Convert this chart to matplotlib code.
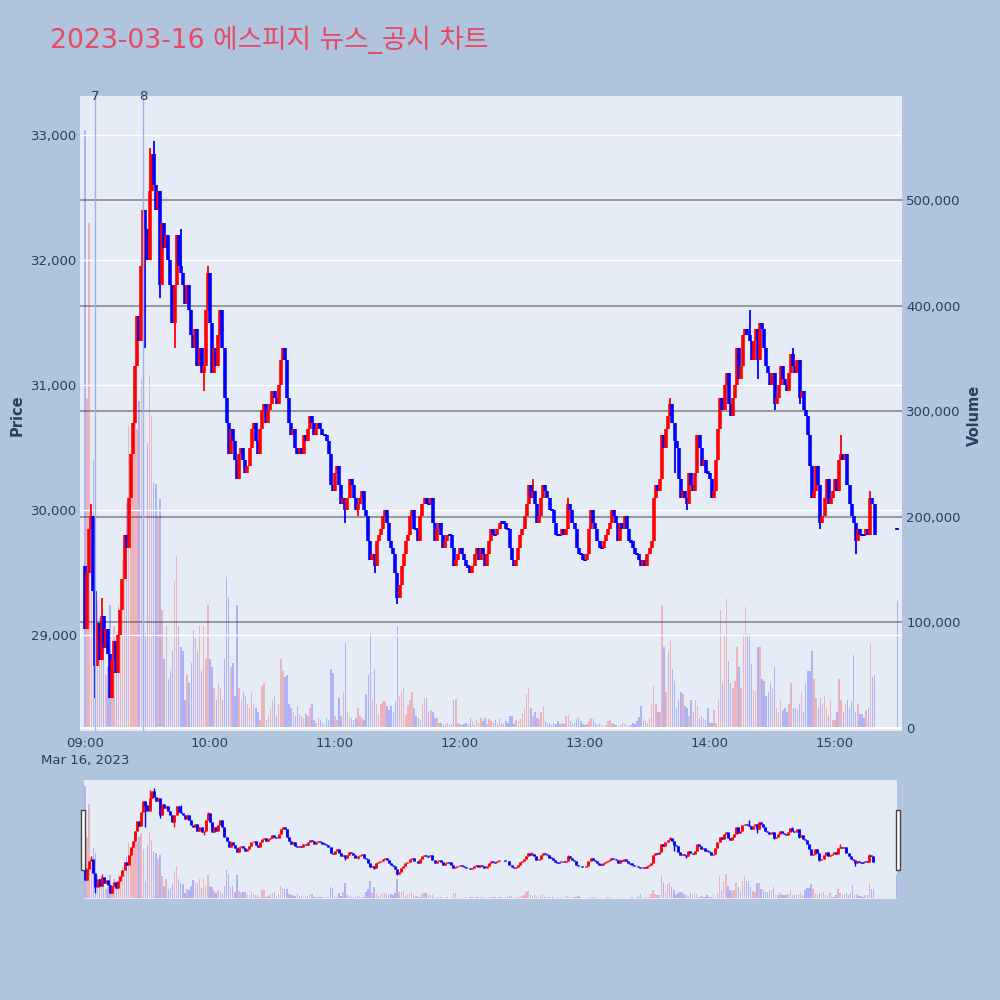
import matplotlib.pyplot as plt
import numpy as np
from matplotlib.patches import Rectangle
from matplotlib.ticker import FuncFormatter

plt.rcParams['font.family'] = ['DejaVu Sans', 'Noto Sans CJK KR']

title = '2023-03-16 에스피지 뉴스_공시 차트'

# 1분봉 종가 (09:00 ~ 15:19), 시가는 직전 종가
first_open = 29550
close = [
    29050, 29500, 29850, 29950, 29350, 28750, 29100, 28800, 29150, 28900, 29050, 28850, 28500, 28800, 28950, 28700, 29000, 29200, 29450, 29800,
    29700, 30100, 30450, 30700, 31150, 31550, 31350, 31950, 32400, 32250, 32000, 32550, 32850, 32600, 32400, 32550, 31800, 32300, 32100, 32200,
    32000, 31800, 31500, 31800, 32200, 31950, 31900, 31800, 31650, 31800, 31600, 31400, 31300, 31450, 31150, 31300, 31100, 31150, 31600, 31900,
    31500, 31100, 31300, 31150, 31400, 31600, 31300, 30900, 30700, 30450, 30650, 30550, 30400, 30250, 30450, 30500, 30400, 30300, 30350, 30500,
    30650, 30700, 30550, 30450, 30650, 30800, 30850, 30700, 30800, 30850, 30950, 30900, 30850, 31000, 31200, 31300, 31200, 30900, 30700, 30600,
    30650, 30500, 30450, 30500, 30450, 30600, 30550, 30650, 30750, 30700, 30600, 30650, 30700, 30650, 30600, 30600, 30550, 30450, 30200, 30150,
    30300, 30350, 30200, 30050, 30100, 30000, 30100, 30250, 30200, 30100, 30000, 30050, 30100, 30150, 30000, 29950, 29750, 29600, 29650, 29550,
    29750, 29800, 29850, 29950, 30000, 29900, 29750, 29700, 29650, 29500, 29300, 29400, 29550, 29650, 29750, 29800, 29950, 30000, 29850, 29850,
    29750, 29950, 30050, 30100, 30050, 30050, 30100, 29900, 29750, 29850, 29900, 29800, 29700, 29750, 29800, 29800, 29700, 29550, 29600, 29650,
    29700, 29650, 29600, 29550, 29550, 29500, 29550, 29650, 29700, 29600, 29700, 29650, 29550, 29650, 29750, 29850, 29800, 29800, 29850, 29900,
    29900, 29900, 29850, 29850, 29700, 29600, 29550, 29600, 29700, 29800, 29850, 29950, 30050, 30200, 30100, 30150, 30050, 29900, 29950, 30100,
    30200, 30150, 30100, 30000, 30000, 29900, 29800, 29800, 29800, 29850, 29800, 29850, 30050, 30000, 29900, 29850, 29700, 29650, 29650, 29600,
    29600, 29650, 29850, 30000, 29900, 29850, 29750, 29700, 29700, 29750, 29800, 29850, 29900, 30000, 29950, 29900, 29750, 29900, 29850, 29950,
    29850, 29750, 29750, 29700, 29650, 29650, 29600, 29550, 29600, 29550, 29650, 29700, 29750, 30100, 30200, 30150, 30250, 30600, 30500, 30650,
    30750, 30850, 30700, 30550, 30500, 30250, 30100, 30150, 30100, 30050, 30300, 30200, 30150, 30300, 30600, 30500, 30350, 30400, 30300, 30300,
    30250, 30100, 30150, 30400, 30650, 30900, 30800, 31000, 31100, 30850, 30750, 30900, 31000, 31300, 31050, 31150, 31400, 31450, 31400, 31350,
    31200, 31350, 31450, 31200, 31500, 31450, 31300, 31150, 31100, 31000, 31100, 30850, 30900, 31000, 31150, 31050, 31000, 30950, 31100, 31250,
    31150, 31100, 31200, 30900, 30950, 30800, 30750, 30600, 30350, 30100, 30150, 30350, 30200, 29900, 29950, 30100, 30250, 30050, 30100, 30150,
    30250, 30150, 30400, 30450, 30400, 30450, 30200, 30050, 29950, 29900, 29750, 29850, 29800, 29800, 29800, 29850, 29800, 30100, 30050, 29800,
]

# 거래량 (천 주)
volume_k = [
    566, 312, 478, 175, 254, 229, 120, 104, 85, 73, 50, 58, 116, 65, 96, 81, 116, 96, 159, 178,
    213, 287, 240, 272, 330, 283, 310, 330, 250, 90, 270, 334, 295, 233, 231, 200, 217, 112, 65, 96,
    46, 54, 73, 139, 163, 96, 77, 73, 26, 50, 42, 61, 93, 85, 73, 96, 54, 96, 65, 116,
    65, 58, 38, 26, 42, 38, 26, 65, 143, 124, 58, 61, 30, 116, 38, 26, 34, 30, 23, 19,
    34, 23, 19, 15, 7, 40, 42, 7, 11, 19, 26, 30, 11, 23, 65, 54, 48, 50, 23, 19,
    15, 11, 21, 13, 11, 9, 13, 11, 19, 23, 7, 5, 9, 7, 5, 3, 9, 7, 56, 52,
    11, 7, 28, 11, 34, 80, 15, 11, 9, 7, 9, 19, 11, 9, 7, 32, 50, 90, 26, 56,
    23, 13, 23, 25, 25, 21, 17, 21, 15, 25, 96, 30, 34, 38, 12, 22, 26, 34, 19, 11,
    9, 7, 23, 28, 28, 15, 17, 15, 9, 9, 5, 5, 3, 4, 5, 3, 4, 26, 27, 5,
    4, 3, 4, 5, 4, 9, 6, 4, 7, 5, 9, 6, 9, 4, 8, 6, 5, 7, 4, 9,
    5, 4, 6, 5, 11, 11, 4, 7, 6, 8, 14, 19, 32, 38, 19, 11, 15, 9, 8, 15,
    21, 6, 4, 5, 3, 5, 4, 6, 4, 5, 4, 11, 12, 6, 4, 5, 8, 10, 6, 4,
    3, 4, 6, 9, 8, 5, 3, 4, 3, 2, 3, 6, 7, 5, 4, 3, 2, 3, 5, 4,
    3, 2, 3, 5, 4, 6, 10, 21, 8, 6, 5, 9, 23, 40, 23, 15, 15, 116, 77, 34,
    73, 83, 56, 44, 19, 26, 34, 32, 21, 19, 11, 26, 15, 26, 21, 9, 11, 9, 7, 19,
    5, 5, 17, 5, 26, 112, 42, 87, 122, 63, 42, 38, 44, 77, 58, 38, 89, 114, 89, 89,
    60, 36, 34, 77, 77, 46, 44, 30, 34, 42, 38, 58, 19, 15, 26, 17, 19, 15, 23, 42,
    19, 19, 17, 23, 34, 15, 42, 54, 54, 73, 46, 28, 19, 28, 23, 30, 19, 11, 26, 7,
    7, 15, 46, 26, 15, 23, 26, 19, 25, 69, 15, 23, 13, 13, 9, 17, 19, 79, 48, 50,
]

# 눈에 띄는 꼬리 (분 -> 가격)
wick_hi = {3: 30050, 8: 29300, 31: 32900, 33: 32950, 46: 32250, 59: 31950, 215: 30250,
           232: 30100, 281: 30900, 319: 31600, 340: 31300, 363: 30600, 377: 30150}
wick_lo = {5: 28500, 29: 31300, 36: 31700, 43: 31300, 57: 30950, 125: 29900, 131: 29950,
           139: 29500, 150: 29250, 283: 30300, 289: 30000, 323: 31050, 331: 30800,
           343: 30850, 353: 29850, 370: 29650}

# 15:30 종가 단일가
auction_minute = 390
auction_price = 29850
auction_vol_k = 120

news_minutes = [5, 28]
news_labels = ['7', '8']

hour_ticks = [0, 60, 120, 180, 240, 300, 360]
hour_labels = ['09:00\nMar 16, 2023', '10:00', '11:00', '12:00', '13:00', '14:00', '15:00']

UP = '#FF0000'
DOWN = '#0000FF'
TXT = '#2a3f5f'

x = np.append(np.arange(len(close)), auction_minute)
c = np.append(close, auction_price).astype(float)
o = np.append([first_open], c[:-1]).astype(float)
o[-1] = auction_price
vol = np.append(volume_k, auction_vol_k) * 1000.0
up = c > o
cols = [UP if u else DOWN for u in up]

body_lo = np.minimum(o, c)
body_hi = np.maximum(o, c)
flat = body_hi - body_lo < 20
body_lo[flat] -= 10
body_hi[flat] += 10
hi = body_hi.copy()
lo = body_lo.copy()
for k, v in wick_hi.items():
    hi[k] = v
for k, v in wick_lo.items():
    lo[k] = v

vcols = [(1, 0, 0, 0.24) if u else (0, 0, 1, 0.24) for u in up]

price_lim = (28232, 33312)
vol_lim = (-3000, 598500)


def draw(axv, axp, body_lw, wick_lw, bar_w):
    axv.bar(x, vol, width=bar_w, color=vcols, linewidth=0)
    axp.vlines(x, lo, hi, colors=cols, linewidth=wick_lw, capstyle='butt')
    axp.vlines(x, body_lo, body_hi, colors=cols, linewidth=body_lw, capstyle='butt')


fig = plt.figure(figsize=(10, 10), dpi=100)
fig.patch.set_facecolor('#B0C4DE')

# 메인 차트
axv = fig.add_axes([0.080, 0.269, 0.822, 0.635])
axv.set_facecolor('#E5ECF6')
axp = axv.twinx()
axp.patch.set_visible(False)

draw(axv, axp, 2.6, 1.3, 0.7)

axv.set_xlim(-2.4, 392.2)
axv.set_ylim(*vol_lim)
axp.set_ylim(*price_lim)

axv.set_yticks([0, 100000, 200000, 300000, 400000, 500000])
axv.yaxis.set_major_formatter(FuncFormatter(lambda v, p: f'{int(v):,}'))
axv.yaxis.tick_right()
axv.yaxis.set_label_position('right')
axv.grid(axis='y', color='#8a8a8a', linewidth=1.2)
axv.axhline(0, color='white', linewidth=1.5, zorder=1.5)
axv.set_axisbelow(True)

axp.set_yticks([29000, 30000, 31000, 32000, 33000])
axp.yaxis.set_major_formatter(FuncFormatter(lambda v, p: f'{int(v):,}'))
axp.yaxis.tick_left()
axp.grid(axis='y', color='white', linewidth=1.0)
axp.set_axisbelow(True)

axv.set_xticks(hour_ticks)
axv.set_xticklabels(hour_labels, linespacing=1.4)
for t in axv.get_xticklabels():
    t.set_verticalalignment('top')

for a in (axv, axp):
    for s in a.spines.values():
        s.set_visible(False)
    a.tick_params(length=0, labelsize=9.5, labelcolor=TXT)
axv.tick_params(axis='y', pad=3)
axp.tick_params(axis='y', pad=2)
axv.tick_params(axis='x', pad=4)

for m, lab in zip(news_minutes, news_labels):
    axp.axvline(m, color='#9db3e6', linewidth=1.0, zorder=3)
    axp.text(m, 0.9985, lab, transform=axp.get_xaxis_transform(), ha='center', va='center',
             fontsize=9.5, color=TXT)

fig.text(0.05, 0.96, title, color='#E94A63', fontsize=19.2, ha='left', va='center')
fig.text(0.010, 0.585, 'Price', rotation=90, ha='left', va='center', fontsize=10.5,
         fontweight='bold', color=TXT)
fig.text(0.967, 0.585, 'Volume', rotation=90, ha='left', va='center', fontsize=10.5,
         fontweight='bold', color=TXT)

# 레인지 슬라이더
sv = fig.add_axes([0.084, 0.101, 0.813, 0.119])
sv.set_facecolor('#E5ECF6')
sp = sv.twinx()
sp.patch.set_visible(False)
draw(sv, sp, 2.0, 1.0, 0.7)
sv.set_xlim(-0.5, 390.3)
sv.set_ylim(*vol_lim)
sp.set_ylim(*price_lim)
for a in (sv, sp):
    a.set_xticks([])
    a.set_yticks([])
    for s in a.spines.values():
        s.set_visible(False)

for hx in (0.0813, 0.8955):
    fig.patches.append(Rectangle((hx, 0.130), 0.004, 0.060, transform=fig.transFigure,
                                 facecolor='white', edgecolor='#444444', linewidth=1.0))

fig.savefig('out.png', dpi=100, facecolor=fig.get_facecolor())
